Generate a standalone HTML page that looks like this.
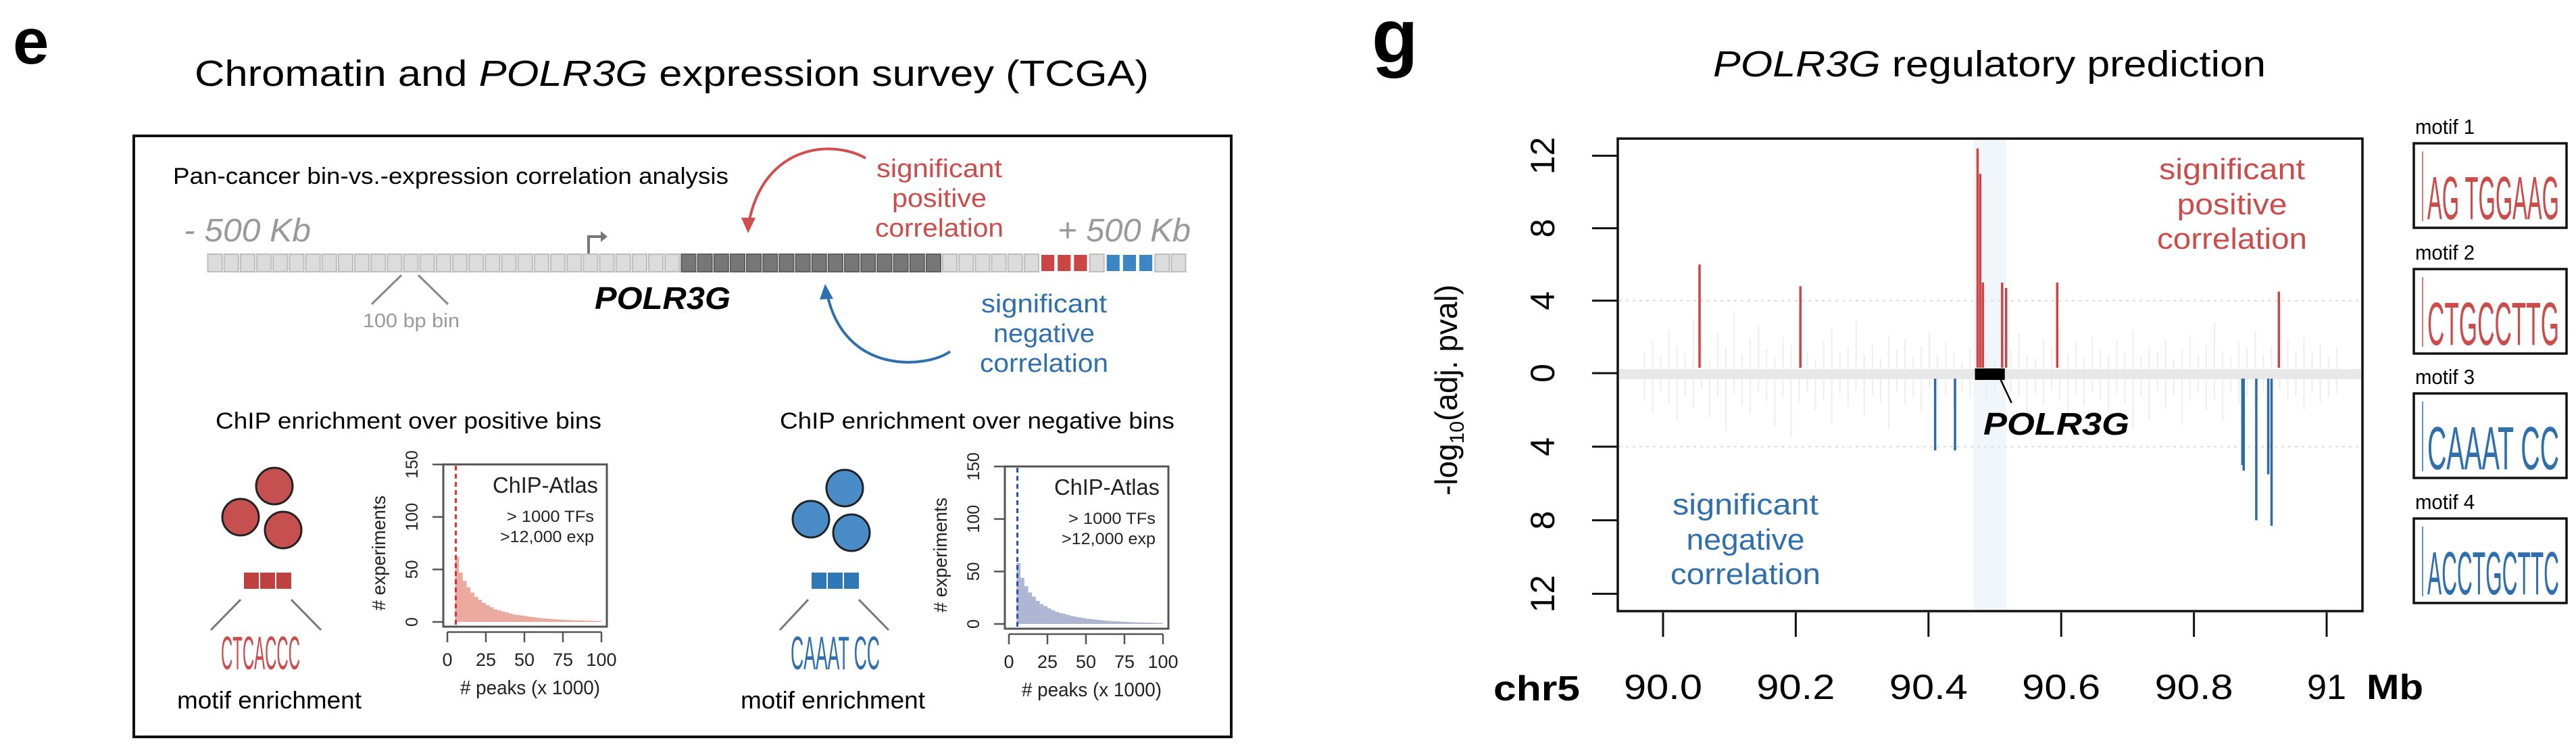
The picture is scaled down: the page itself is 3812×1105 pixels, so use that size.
<!DOCTYPE html>
<html><head><meta charset="utf-8"><style>
html,body{margin:0;padding:0;background:#fff;}
svg{display:block;font-family:"Liberation Sans",sans-serif;}
</style></head><body>
<svg id="fig" width="3812" height="1105" viewBox="0 0 3812 1105">
<rect x="0" y="0" width="3812" height="1105" fill="#fff"/>
<!-- PANEL E -->
<g>
<text x="19" y="94" font-size="96" font-weight="bold">e</text>
<text x="288" y="127" font-size="54" textLength="1412" lengthAdjust="spacingAndGlyphs">Chromatin and <tspan font-style="italic">POLR3G</tspan> expression survey (TCGA)</text>
<rect x="198" y="201" width="1624" height="889" fill="none" stroke="#111" stroke-width="4"/>
<text x="256" y="272" font-size="34" textLength="822" lengthAdjust="spacingAndGlyphs">Pan-cancer bin-vs.-expression correlation analysis</text>
<text x="272" y="357" font-size="48" font-style="italic" fill="#999" textLength="188" lengthAdjust="spacingAndGlyphs">- 500 Kb</text>
<text x="1565" y="357" font-size="48" font-style="italic" fill="#999" textLength="197" lengthAdjust="spacingAndGlyphs">+ 500 Kb</text>
<g id="bins"></g>
<path d="M871 375 L871 350 L893 350" fill="none" stroke="#777" stroke-width="4"/>
<path d="M889 342 L899 350 L889 358 Z" fill="#777"/>
<text x="880" y="457" font-size="46" font-weight="bold" font-style="italic" textLength="201" lengthAdjust="spacingAndGlyphs">POLR3G</text>
<path d="M594 407 L550 450 M619 407 L663 450" stroke="#888" stroke-width="3"/>
<text x="537" y="484" font-size="29" fill="#999" textLength="143" lengthAdjust="spacingAndGlyphs">100 bp bin</text>
<path d="M1281 234 C1230 205 1130 215 1108 330" fill="none" stroke="#d05050" stroke-width="4"/>
<path d="M1097 322 L1107 345 L1118 322 Z" fill="#d05050"/>
<g fill="#cc4b4b" font-size="38" text-anchor="middle">
<text x="1390" y="262" textLength="186" lengthAdjust="spacingAndGlyphs">significant</text>
<text x="1390" y="306" textLength="140" lengthAdjust="spacingAndGlyphs">positive</text>
<text x="1390" y="350" textLength="190" lengthAdjust="spacingAndGlyphs">correlation</text>
</g>
<path d="M1406 520 C1370 545 1250 555 1224 435" fill="none" stroke="#2f6fae" stroke-width="4"/>
<path d="M1213 443 L1221 420 L1233 442 Z" fill="#2f6fae"/>
<g fill="#2f6fae" font-size="38" text-anchor="middle">
<text x="1545" y="462" textLength="186" lengthAdjust="spacingAndGlyphs">significant</text>
<text x="1545" y="506" textLength="150" lengthAdjust="spacingAndGlyphs">negative</text>
<text x="1545" y="550" textLength="190" lengthAdjust="spacingAndGlyphs">correlation</text>
</g>
<text x="319" y="634" font-size="34" textLength="571" lengthAdjust="spacingAndGlyphs">ChIP enrichment over positive bins</text>
<text x="1154" y="634" font-size="34" textLength="584" lengthAdjust="spacingAndGlyphs">ChIP enrichment over negative bins</text>
<g stroke="#222" stroke-width="3" fill="#c65050">
<circle cx="406" cy="719" r="27"/><circle cx="356" cy="765" r="27"/><circle cx="419" cy="784" r="27"/>
</g>
<g fill="#c04040" stroke="#fff" stroke-width="2">
<rect x="360" y="846" width="24" height="26"/><rect x="384" y="846" width="24" height="26"/><rect x="408" y="846" width="24" height="26"/>
</g>
<path d="M356 887 L312 932 M431 887 L475 932" stroke="#777" stroke-width="3"/>
<text x="327" y="990" font-size="70" fill="#cc4b4b" textLength="117" lengthAdjust="spacingAndGlyphs">CTCACCC</text>
<text x="262" y="1048" font-size="36" textLength="273" lengthAdjust="spacingAndGlyphs">motif enrichment</text>
<g stroke="#222" stroke-width="3" fill="#4a8cc8">
<circle cx="1250" cy="722" r="27"/><circle cx="1200" cy="768" r="27"/><circle cx="1260" cy="788" r="27"/>
</g>
<g fill="#2f78b8" stroke="#fff" stroke-width="2">
<rect x="1200" y="846" width="24" height="26"/><rect x="1224" y="846" width="24" height="26"/><rect x="1248" y="846" width="24" height="26"/>
</g>
<path d="M1196 887 L1154 932 M1271 887 L1315 932" stroke="#777" stroke-width="3"/>
<text x="1170" y="990" font-size="70" fill="#2f6fae" textLength="132" lengthAdjust="spacingAndGlyphs">CAAAT CC</text>
<text x="1096" y="1048" font-size="36" textLength="273" lengthAdjust="spacingAndGlyphs">motif enrichment</text>
<g id="hist1"></g>
<g id="hist2"></g>
</g>
<!-- PANEL G -->
<g>
<text x="2030" y="92" font-size="112" font-weight="bold">g</text>
<text x="2535" y="113" font-size="54" textLength="818" lengthAdjust="spacingAndGlyphs"><tspan font-style="italic">POLR3G</tspan> regulatory prediction</text>
<g id="gplot"></g>
<g id="motifs"></g>
</g>
</svg>
<script>
var binCount = 60;
var geneBins = [29, 44];
var posBins = [51, 52, 53];
var negBins = [55, 56, 57];

var histBins = [5,7.5,10,12.5,15,17.5,20,22.5,25,27.5,30,32.5,35,37.5,40,42.5,45,47.5,50,52.5,55,57.5,60,62.5,65,67.5,70,72.5,75,77.5,80,82.5,85,87.5,90,92.5,95,97.5];
var histPos = [62,47,39,33,28,24,21,18,16,14,12,11,10,9,8,7,6.5,6,5.5,5,4.5,4,3.5,3.2,3,2.7,2.4,2.2,2,1.8,1.6,1.5,1.4,1.3,1.2,1.1,1,1];
var histNeg = [58,44,36,30,26,22,19,17,15,13,11.5,10.5,9.5,8.5,7.5,6.8,6.2,5.6,5,4.6,4.2,3.8,3.4,3.1,2.8,2.6,2.4,2.2,2,1.8,1.6,1.5,1.4,1.3,1.2,1.1,1,1];
var histTicksX = [0,25,50,75,100];
var histTicksY = [0,50,100,150];
var cutoffPos = 5.5, cutoffNeg = 5.5;

var posMb = [90.055,90.207,90.474,90.478,90.482,90.511,90.517,90.594,90.928];
var posVal = [6.0,4.8,12.4,11.0,5.0,5.0,4.7,5.0,4.5];
var negMb = [90.410,90.440,90.873,90.875,90.894,90.912,90.917];
var negVal = [4.2,4.2,5.0,5.3,8.0,5.5,8.3];
var yTicks = [12,8,4,0,4,8,12];
var yTickSigned = [12,8,4,0,-4,-8,-12];
var xTicks = [90.0,90.2,90.4,90.6,90.8,91.0];
var xTickLabels = ["90.0","90.2","90.4","90.6","90.8","91"];
var geneStart = 90.470, geneEnd = 90.515;
var bgUp = [1.2,1.8,0.9,2.4,1.5,1.1,3.0,1.7,0.8,2.2,1.4,3.4,1.0,1.9,2.6,1.3,0.9,2.0,1.6,3.1,1.2,0.7,1.8,2.5,1.1,1.4,2.9,1.0,1.6,0.8,2.1,1.3,1.9,0.9,1.5,2.3,1.0,1.7,1.2,0.6,1.4,2.0,1.1,0.9,1.6,1.3,2.2,1.0,0.8,1.9,1.4,2.6,1.1,1.7,0.9,2.0,1.3,1.0,1.8,1.2,2.4,0.9,1.5,1.1,1.9,0.8,1.3,2.1,1.0,1.6,2.8,1.2,0.9,1.7,1.4,2.3,1.0,1.5,0.8,1.9,1.2,2.0,1.1,1.6,0.9,1.4];
var bgDown = [1.5,2.1,1.0,1.7,2.6,1.2,1.9,0.9,2.4,1.3,3.2,1.1,1.8,2.2,1.0,1.5,2.9,1.3,3.5,1.6,1.0,2.0,1.4,2.7,1.1,1.8,0.9,2.3,1.2,1.6,3.0,1.0,1.7,1.3,2.1,0.9,1.5,1.2,2.0,1.0,1.4,0.8,1.6,1.2,1.9,1.0,1.3,2.2,1.1,1.7,0.9,1.5,2.4,1.2,1.8,1.0,1.4,2.1,1.1,1.6,3.1,1.3,2.5,1.0,1.9,1.2,2.8,1.5,1.1,2.0,1.4,2.6,1.0,1.7,1.3,2.2,1.1,1.8,0.9,1.5,1.2,2.0,1.0,1.6,1.3,1.1];

var NS = "http://www.w3.org/2000/svg";
function mk(tag, attrs, parent, text) {
  var e = document.createElementNS(NS, tag);
  for (var k in attrs) e.setAttribute(k, attrs[k]);
  if (text !== undefined) e.textContent = text;
  parent.appendChild(e);
  return e;
}

(function(){
  var g = document.getElementById('bins');
  var x0 = 306, x1 = 1756, w = (x1 - x0) / binCount;
  for (var i = 0; i < binCount; i++) {
    var fill = '#dcdcdc', st = '#bdbdbd';
    if (i >= geneBins[0] && i <= geneBins[1]) { fill = '#777'; st = '#5f5f5f'; }
    if (posBins.indexOf(i) >= 0) { fill = '#cc4444'; st = '#fff'; }
    if (negBins.indexOf(i) >= 0) { fill = '#3d86c6'; st = '#fff'; }
    var r = mk('rect', {x: x0 + i*w + 1.5, y: 376, width: w - 3, height: 26, fill: fill, stroke: st, 'stroke-width': 2}, g);
    
    
  }
})();

function drawHist(gid, dx, dy, vals, cutoff, color, lineColor) {
  var g = document.getElementById(gid);
  var X = function(v){ return 662 + dx + v * 2.28; };
  var Y = function(v){ return 920 + dy - v * 1.553; };
  var d = 'M' + X(histBins[0]) + ' ' + Y(0);
  for (var i = 0; i < histBins.length; i++) {
    d += ' L' + X(histBins[i]) + ' ' + Y(vals[i]) + ' L' + X(histBins[i] + 2.5) + ' ' + Y(vals[i]);
  }
  d += ' L' + X(100) + ' ' + Y(0) + ' Z';
  var a = mk('path', {d: d, fill: color}, g);
  
  
  var c = mk('line', {x1: X(cutoff), x2: X(cutoff), y1: 689 + dy, y2: 925 + dy, stroke: lineColor, 'stroke-width': 3, 'stroke-dasharray': '7,5'}, g);
  
  
  var b = mk('rect', {x: 656 + dx, y: 687 + dy, width: 242, height: 240, fill: 'none', stroke: '#555', 'stroke-width': 3}, g);
  
  
  mk('line', {x1: X(0), x2: X(100), y1: 935 + dy, y2: 935 + dy, stroke: '#555', 'stroke-width': 2.5}, g);
  histTicksX.forEach(function(t){
    mk('line', {x1: X(t), x2: X(t), y1: 935 + dy, y2: 950 + dy, stroke: '#555', 'stroke-width': 2.5}, g);
    var tl = mk('text', {x: X(t), y: 985 + dy, 'font-size': 27, 'text-anchor': 'middle', fill: '#222'}, g, String(t));
    
    
  });
  histTicksY.forEach(function(t){
    mk('line', {x1: 640 + dx, x2: 656 + dx, y1: Y(t), y2: Y(t), stroke: '#555', 'stroke-width': 2.5}, g);
    var tl = mk('text', {x: 618 + dx, y: Y(t), 'font-size': 25, 'text-anchor': 'middle', fill: '#222', transform: 'rotate(-90 ' + (618 + dx) + ' ' + Y(t) + ')'}, g, String(t));
    
    
  });
  var xt = mk('text', {x: 681 + dx, y: 1027 + dy, 'font-size': 29, textLength: 207, lengthAdjust: 'spacingAndGlyphs', fill: '#222'}, g, '# peaks (x 1000)');
  
  
  var yt = mk('text', {x: 570 + dx, y: 818 + dy, 'font-size': 28, 'text-anchor': 'middle', textLength: 170, lengthAdjust: 'spacingAndGlyphs', fill: '#222', transform: 'rotate(-90 ' + (570 + dx) + ' ' + (818 + dy) + ')'}, g, '# experiments');
  
  
  var l1 = mk('text', {x: 885 + dx, y: 729 + dy, 'font-size': 33, 'text-anchor': 'end', textLength: 156, lengthAdjust: 'spacingAndGlyphs', fill: '#222'}, g, 'ChIP-Atlas');
  
  
  var l2 = mk('text', {x: 879 + dx, y: 772 + dy, 'font-size': 24, 'text-anchor': 'end', textLength: 129, lengthAdjust: 'spacingAndGlyphs', fill: '#222'}, g, '> 1000 TFs');
  
  
  var l3 = mk('text', {x: 879 + dx, y: 802 + dy, 'font-size': 24, 'text-anchor': 'end', textLength: 139, lengthAdjust: 'spacingAndGlyphs', fill: '#222'}, g, '>12,000 exp');
  
  
}
drawHist('hist1', 0, 0, histPos, cutoffPos, '#eaaaa0', '#d83030');
drawHist('hist2', 831, 3, histNeg, cutoffNeg, '#aeb6d4', '#2a4fa8');

(function(){
  var g = document.getElementById('gplot');
  var X = function(mb){ return 2461 + (mb - 90.0) * 982; };
  var Yu = function(v){ return 552 - v * 26.8; };
  var Yd = function(v){ return 552 + v * 27.2; };
  var Ys = function(s){ return s >= 0 ? Yu(s) : Yd(-s); };
  mk('rect', {x: X(geneStart) - 2, y: 207, width: X(geneEnd) - X(geneStart) + 4, height: 695, fill: '#f1f6fb'}, g);
  var bx0 = 89.972, bx1 = 91.015;
  for (var i = 0; i < bgUp.length; i++) {
    var mb = bx0 + (bx1 - bx0) * i / (bgUp.length - 1);
    var r = mk('line', {x1: X(mb), x2: X(mb), y1: Yu(0), y2: Yu(bgUp[i]), stroke: '#eeeeee', 'stroke-width': 2}, g);
    
    
  }
  for (var j = 0; j < bgDown.length; j++) {
    var mb2 = bx0 + (bx1 - bx0) * j / (bgDown.length - 1);
    var r2 = mk('line', {x1: X(mb2), x2: X(mb2), y1: Yd(0), y2: Yd(bgDown[j]), stroke: '#eeeeee', 'stroke-width': 2}, g);
    
    
  }
  mk('rect', {x: 2396, y: 546, width: 1098, height: 15, fill: '#e8e8e8'}, g);
  mk('line', {x1: 2396, x2: 3494, y1: Yu(4), y2: Yu(4), stroke: '#ddd', 'stroke-width': 2, 'stroke-dasharray': '4,6'}, g);
  mk('line', {x1: 2396, x2: 3494, y1: Yd(4), y2: Yd(4), stroke: '#ddd', 'stroke-width': 2, 'stroke-dasharray': '4,6'}, g);
  posMb.forEach(function(m, k){
    var b = mk('line', {x1: X(m), x2: X(m), y1: Yu(0.3), y2: Yu(posVal[k]), stroke: '#cc4444', 'stroke-width': 3.5}, g);
    
    
  });
  negMb.forEach(function(m, k){
    var b = mk('line', {x1: X(m), x2: X(m), y1: Yd(0.3), y2: Yd(negVal[k]), stroke: '#2e6aa6', 'stroke-width': 3.5}, g);
    
    
  });
  var gene = mk('rect', {x: X(geneStart), y: 545, width: X(geneEnd) - X(geneStart), height: 17, fill: '#000'}, g);
  
  
  mk('line', {x1: X(geneEnd) - 6, y1: 562, x2: X(geneEnd) + 10, y2: 596, stroke: '#000', 'stroke-width': 2.5}, g);
  var gl = mk('text', {x: 2935, y: 643, 'font-size': 46, 'font-weight': 'bold', 'font-style': 'italic', textLength: 216, lengthAdjust: 'spacingAndGlyphs'}, g, 'POLR3G');
  
  
  var frame = mk('rect', {x: 2394, y: 205, width: 1102, height: 699, fill: 'none', stroke: '#111', 'stroke-width': 3.5}, g);
  
  
  yTicks.forEach(function(t, k){
    var yy = Ys(yTickSigned[k]);
    mk('line', {x1: 2356, x2: 2394, y1: yy, y2: yy, stroke: '#111', 'stroke-width': 3}, g);
    var tl = mk('text', {x: 2300, y: yy, 'font-size': 50, 'text-anchor': 'middle', transform: 'rotate(-90 2300 ' + yy + ')'}, g, String(t));
    
    
  });
  var yt = mk('text', {x: 2156, y: 577, 'font-size': 46, 'text-anchor': 'middle', transform: 'rotate(-90 2156 577)'}, g);
  
  
  yt.innerHTML = '-log<tspan font-size="30" dy="10">10</tspan><tspan dy="-10">(adj. pval)</tspan>';
  xTicks.forEach(function(t, k){
    mk('line', {x1: X(t), x2: X(t), y1: 906, y2: 942, stroke: '#111', 'stroke-width': 3}, g);
    var tl = mk('text', {x: X(t), y: 1034, 'font-size': 52, 'text-anchor': 'middle', textLength: (xTickLabels[k].length > 2 ? 116 : 58), lengthAdjust: 'spacingAndGlyphs'}, g, xTickLabels[k]);
    
    
  });
  var c5 = mk('text', {x: 2210, y: 1036, 'font-size': 52, 'font-weight': 'bold', textLength: 128, lengthAdjust: 'spacingAndGlyphs'}, g, 'chr5');
  
  
  var mbl = mk('text', {x: 3502, y: 1034, 'font-size': 52, 'font-weight': 'bold', textLength: 84, lengthAdjust: 'spacingAndGlyphs'}, g, 'Mb');
  
  
  var pl = [['significant', 251, 216], ['positive', 303, 163], ['correlation', 354, 222]];
  pl.forEach(function(p){
    var t = mk('text', {x: 3303, y: p[1] + 14, 'font-size': 44, 'text-anchor': 'middle', fill: '#cc4b4b', textLength: p[2], lengthAdjust: 'spacingAndGlyphs'}, g, p[0]);
    
    
  });
  var nl = [['significant', 747, 216], ['negative', 799, 175], ['correlation', 850, 222]];
  nl.forEach(function(p){
    var t = mk('text', {x: 2583, y: p[1] + 14, 'font-size': 44, 'text-anchor': 'middle', fill: '#2f6fae', textLength: p[2], lengthAdjust: 'spacingAndGlyphs'}, g, p[0]);
    
    
  });
})();

var motifNames = ['motif 1', 'motif 2', 'motif 3', 'motif 4'];
var motifSeqs = ['AG TGGAAG', 'CTGCCTTG', 'CAAAT CC', 'ACCTGCTTC'];
var motifColors = ['#cc4b4b', '#cc4b4b', '#2f6fae', '#2f6fae'];
(function(){
  var g = document.getElementById('motifs');
  var tops = [212, 398, 582, 767];
  motifNames.forEach(function(n, k){
    var y = tops[k];
    var l = mk('text', {x: 3574, y: y - 14, 'font-size': 31, textLength: 88, lengthAdjust: 'spacingAndGlyphs'}, g, n);
    
    
    var b = mk('rect', {x: 3572, y: y, width: 226, height: 125, fill: '#fff', stroke: '#111', 'stroke-width': 3.5}, g);
    
    
    mk('line', {x1: 3585, x2: 3585, y1: y + 12, y2: y + 115, stroke: motifColors[k], 'stroke-width': 1.5}, g);
    var s = mk('text', {x: 3592, y: y + 112, 'font-size': 90, fill: motifColors[k], textLength: 195, lengthAdjust: 'spacingAndGlyphs'}, g, motifSeqs[k]);
    
    
  });
})();
</script>
</body></html>
